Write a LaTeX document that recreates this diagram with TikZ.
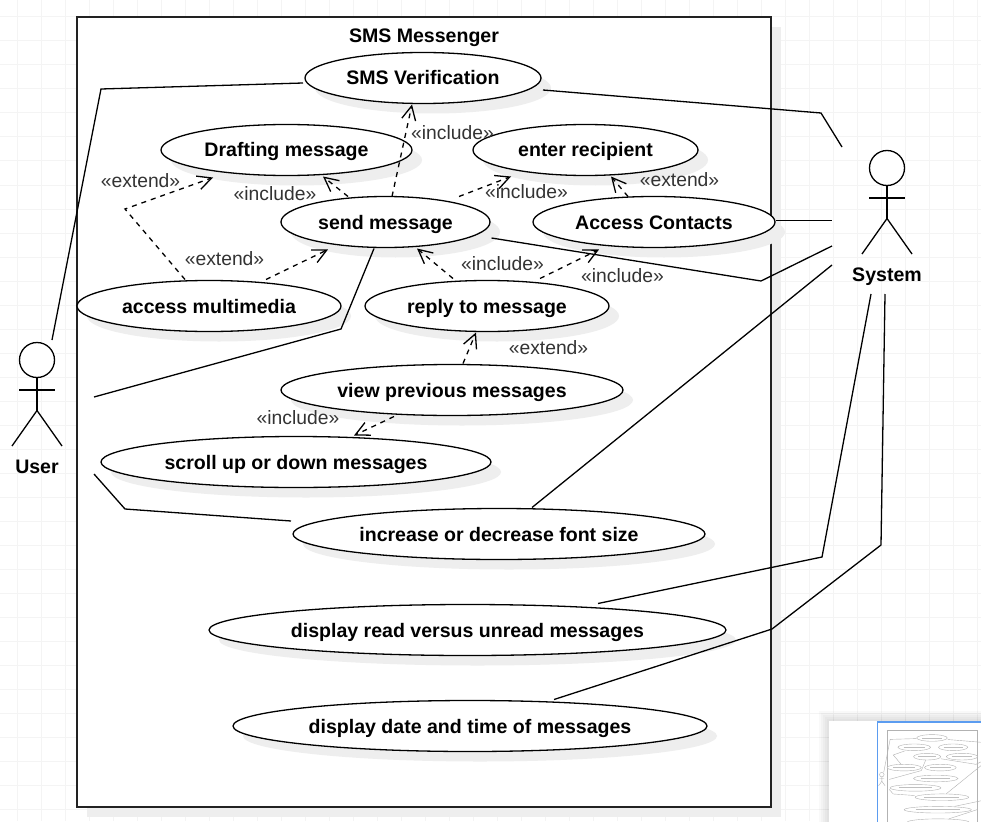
\documentclass[tikz,border=0pt]{standalone}
\usepackage{fontspec}
\setmainfont{Liberation Sans}
\usepackage{xcolor}
\usepackage{tikz}
\usetikzlibrary{arrows.meta, positioning, shapes.geometric, shadows}
\definecolor{gridgray}{HTML}{F4F4F4}
\definecolor{shadegray}{HTML}{EEEEEE}
\definecolor{labelgray}{HTML}{333333}
\definecolor{boxgray}{HTML}{222222}
\definecolor{minimapblue}{HTML}{5B9CF0}
\tikzset{
  usebox/.style = {draw=black, line width=1.3pt, fill=white, inner sep=0pt, outer sep=0pt,
    general shadow={fill=shadegray, shadow xshift=10pt, shadow yshift=-10pt}},
  boundary/.style = {usebox, draw=boxgray, rectangle, minimum width=694pt, minimum height=790pt},
  usecase/.style = {usebox, ellipse, minimum height=51pt, text height=16pt, text depth=2pt,
    font=\fontsize{19.55}{23}\selectfont\bfseries},
  stereo/.style = {inner sep=0pt, text=labelgray, text height=15pt, text depth=2pt,
    font=\fontsize{19.3}{23}\selectfont},
  boldtext/.style = {inner sep=0pt, text height=16pt, text depth=2pt,
    font=\fontsize{19.55}{23}\selectfont\bfseries},
  actorhead/.style = {circle, draw=black, line width=1.3pt, fill=white, inner sep=0pt,
    outer sep=0pt, minimum size=35pt},
  assoc/.style = {draw=black, line width=1.3pt},
  depend/.style = {draw=black, line width=1.3pt, ->, dash pattern=on 5pt off 5pt}
}
\newcommand{\actorfig}[4]{
  \node [actorhead] (#1) at (#2,#3) {};
  \draw [assoc] (#1.south) -- ++(0,33) coordinate (#1hip);
  \draw [assoc] ([yshift=-12.5pt]#1.south) ++(-18,0) -- ++(36,0);
  \draw [assoc] (#2-25,#3+86) -- (#1hip) -- (#2+25,#3+86);
  \node [boldtext] (#1label) at (#2,#3+106) {#4};
}

\begin{document}
\begin{tikzpicture}[x=1pt, y=-1pt, >={Straight Barb[length=14pt,width=14pt,line width=1.3pt]}]
\useasboundingbox (0,0) rectangle (981,821);
% grid
\foreach \gx in {17,41,...,977} \draw [gridgray, line width=1pt] (\gx,0) -- (\gx,821);
\foreach \gy in {17,41,...,809} \draw [gridgray, line width=1pt] (0,\gy) -- (981,\gy);

\node [boundary] (smsbox) at (424,412) {};
\node [boldtext] (smstitle) at (424,36) {SMS Messenger};

% use cases
\node [usecase, minimum width=236pt] (verify) at (423,78) {SMS Verification};
\node [usecase, minimum width=251pt] (drafting) at (286.5,150) {Drafting message};
\node [usecase, minimum width=225pt] (recipient) at (585.5,150) {enter recipient};
\node [usecase, minimum width=209pt] (send) at (385.5,222) {send message};
\node [usecase, minimum width=242pt] (contacts) at (654,222) {Access Contacts};
\node [usecase, minimum width=264pt] (multimedia) at (209,306) {access multimedia};
\node [usecase, minimum width=244pt] (reply) at (487,306) {reply to message};
\node [usecase, minimum width=342pt] (previous) at (452,390) {view previous messages};
\node [usecase, minimum width=390pt] (scroll) at (296,462) {scroll up or down messages};
\node [usecase, minimum width=412pt] (fontsize) at (499,534) {increase or decrease font size};
\node [usecase, minimum width=517pt] (readunread) at (467.5,630) {display read versus unread messages};
\node [usecase, minimum width=474pt] (datetime) at (470,726) {display date and time of messages};

% actors
\actorfig{user}{37}{360}{User}
\actorfig{system}{887}{168}{System}

\coordinate (usertop) at (52,340);
\coordinate (userarm) at (94,397);
\coordinate (userleg) at (94,474);
\coordinate (systop) at (842,147);
\coordinate (sysarma) at (832,220.5);
\coordinate (sysarmb) at (832,246);
\coordinate (sysarmc) at (832,265);
\coordinate (syslega) at (871,294);
\coordinate (syslegb) at (885,294);

% associations
\draw [assoc] ([xshift=-2pt,yshift=-5pt]verify.west) -- (101,89) -- (usertop);
\draw [assoc] ([xshift=2pt,yshift=-12pt]verify.east) -- (821,113) -- (systop);
\draw [assoc] ([xshift=-11.5pt,yshift=-1pt]send.south) -- (341,329) -- (userarm);
\draw [assoc] ([xshift=-2pt,yshift=13pt]fontsize.west) -- (125,509) -- (userleg);
\draw [assoc] ([xshift=1pt,yshift=1.5pt]contacts.east) -- (sysarma);
\draw [assoc] ([xshift=1.5pt,yshift=-16pt]send.east) -- (761,281) -- (sysarmb);
\draw [assoc] ([xshift=33pt,yshift=1pt]fontsize.north) -- (sysarmc);
\draw [assoc] ([xshift=130.5pt,yshift=1pt]readunread.north) -- (822,557) -- (syslega);
\draw [assoc] ([xshift=84pt,yshift=1pt]datetime.north) -- (772,629) -- (881,545) -- (syslegb);

% dependencies
\draw [depend] ([xshift=-37.5pt]send.north) -- ([xshift=36.5pt,yshift=-1pt]drafting.south);
\draw [depend] ([xshift=6.5pt]send.north) -- ([xshift=-11pt,yshift=-1pt]verify.south);
\draw [depend] ([xshift=73.5pt]send.north) -- ([xshift=-74.5pt,yshift=-1pt]recipient.south);
\draw [depend] ([xshift=-26pt]contacts.north) -- ([xshift=25.5pt,yshift=-1pt]recipient.south);
\draw [depend] ([xshift=-34pt,yshift=2pt]reply.north) -- ([xshift=31.5pt,yshift=-1pt]send.south);
\draw [depend] ([xshift=53pt,yshift=2pt]reply.north) -- ([xshift=-55pt,yshift=-2pt]contacts.south);
\draw [depend] ([xshift=57pt,yshift=1pt]multimedia.north) -- ([xshift=-57.5pt,yshift=-2pt]send.south);
\draw [depend] ([xshift=-24pt,yshift=1pt]multimedia.north) -- (125,209) -- ([xshift=-73.5pt,yshift=-2pt]drafting.south);
\draw [depend] ([xshift=11pt,yshift=1pt]previous.north) -- ([xshift=-11pt,yshift=-1pt]reply.south);
\draw [depend] ([xshift=-58pt,yshift=-1pt]previous.south) -- ([xshift=58pt,yshift=1pt]scroll.north);

% stereotypes
\node [stereo] (incverify) at (452.5,133) {«include»};
\node [stereo] (incdraft) at (275,194) {«include»};
\node [stereo] (extdraft) at (140.5,181) {«extend»};
\node [stereo] (extmedia) at (224.5,259) {«extend»};
\node [stereo] (increcip) at (526.5,192) {«include»};
\node [stereo] (extrecip) at (679.5,180) {«extend»};
\node [stereo] (increply) at (502.5,264) {«include»};
\node [stereo] (inccontact) at (622.5,276) {«include»};
\node [stereo] (extprev) at (548.5,348) {«extend»};
\node [stereo] (incscroll) at (298,418) {«include»};

% minimap
\begin{scope}
\clip (0,0) rectangle (981,821);
\foreach \sd in {10,8,6,4,2} \fill [black, opacity=.025] (829-\sd,721-\sd) rectangle (990,830);
\fill [white] (829,721) rectangle (990,830);
\begin{scope}[shift={(877,727.8)}, scale=.13, gray!60, line width=.4pt]
\draw (77,17) rectangle (771,807);
\foreach \cx/\cy/\rx in {423/78/118, 286.5/150/125.5, 585.5/150/112.5, 385.5/222/104.5,
    654/222/121, 209/306/132, 487/306/122, 452/390/171, 296/462/195, 499/534/206,
    467.5/630/258.5, 470/726/237} {
  \draw [fill=white] (\cx,\cy) ellipse [x radius=\rx, y radius=25.5];
  \draw [gray!50, line width=.9pt] (\cx-.65*\rx,\cy) -- (\cx+.65*\rx,\cy);
}
\draw (37,360) circle [radius=17.5];
\draw (37,378) -- (37,411) (19,390) -- (55,390) (12,446) -- (37,411) -- (62,446);
\draw (303,83) -- (101,89) -- (52,340);
\draw (543,90) -- (821,113) -- (842,147);
\draw (374,249) -- (341,329) -- (94,397);
\draw (291,521) -- (125,509) -- (94,474);
\draw (491,238) -- (761,281) -- (832,246);
\draw (532,508) -- (832,265);
\draw (598,604) -- (822,557);
\draw (554,700) -- (772,629);
\draw (185,280) -- (125,209) -- (213,178);
\end{scope}
\draw [minimapblue, line width=1.6pt] (990,722) -- (877.5,722) -- (877.5,830);
\end{scope}
\end{tikzpicture}
\end{document}
